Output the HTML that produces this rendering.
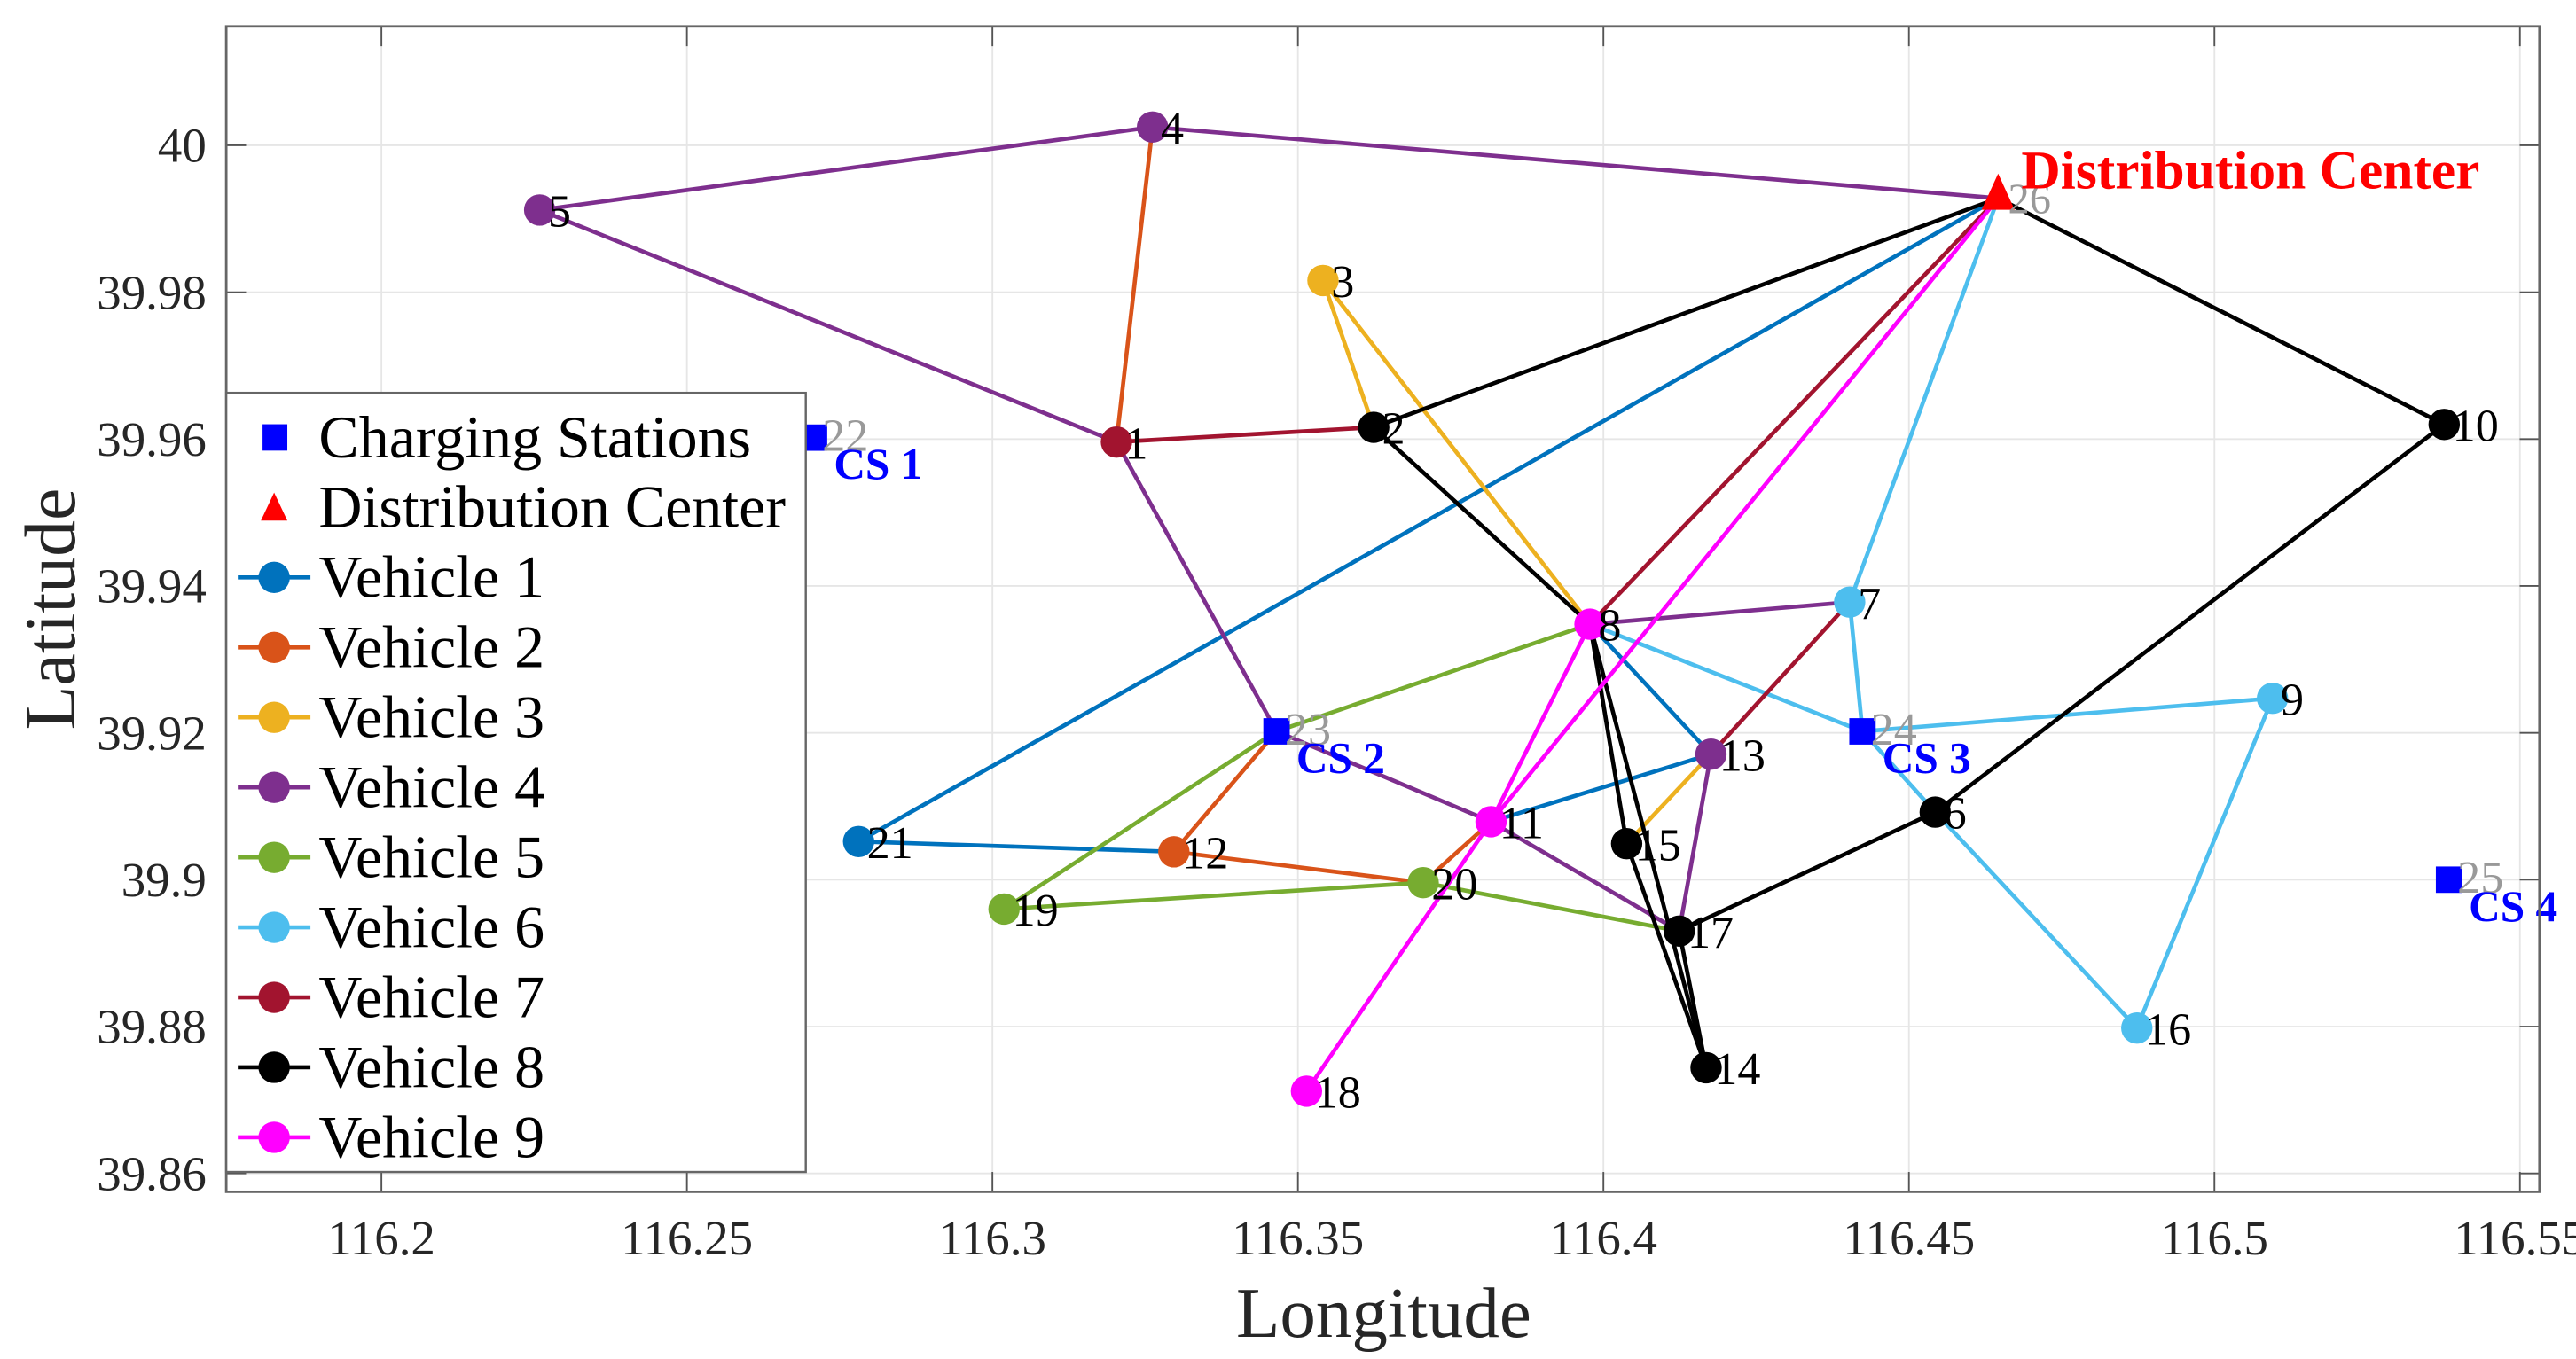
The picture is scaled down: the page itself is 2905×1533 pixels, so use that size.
<!DOCTYPE html>
<html><head><meta charset="utf-8"><style>
html,body{margin:0;padding:0;background:#fff;}
svg{display:block;font-family:"Liberation Serif",serif;}
</style></head><body>
<svg id="chart" width="2905" height="1533" viewBox="0 0 1560.1 823.3" xmlns="http://www.w3.org/2000/svg">
<g id="grid"></g>
<g id="routes"></g>
<g id="nodes"></g>
<g id="axes"></g>
<g id="legend"></g>
</svg>
<script>
const xTicks = [116.2, 116.25, 116.3, 116.35, 116.4, 116.45, 116.5, 116.55];
const xTickLabels = ["116.2","116.25","116.3","116.35","116.4","116.45","116.5","116.55"];
const yTicks = [40, 39.98, 39.96, 39.94, 39.92, 39.9, 39.88, 39.86];
const yTickLabels = ["40","39.98","39.96","39.94","39.92","39.9","39.88","39.86"];
const nodeIds = [1,2,3,4,5,6,7,8,9,10,11,12,13,14,15,16,17,18,19,20,21];
const nodeLon = [116.3203,116.3624,116.3541,116.3262,116.2259,116.4543,116.4403,116.3978,116.5095,116.5376,116.3816,116.3297,116.4176,116.4168,116.4038,116.4873,116.4124,116.3514,116.3019,116.3705,116.2781];
const nodeLat = [39.9596,39.9616,39.9816,40.0025,39.9912,39.9092,39.9378,39.9348,39.9247,39.9620,39.9079,39.9038,39.9171,39.8744,39.9049,39.8798,39.8930,39.8712,39.8960,39.8996,39.9052];
const nodeVehicle = [7,8,3,4,4,8,6,9,6,8,9,2,4,8,8,6,8,9,5,5,1];
const csIds = [22,23,24,25];
const csLabels = ["CS 1","CS 2","CS 3","CS 4"];
const csLon = [116.2708,116.3465,116.4424,116.5384];
const csLat = [39.9602,39.9202,39.9202,39.9000];
const dcLon = 116.4646;
const dcLat = 39.9928;
const vehicleNames = ["Vehicle 1","Vehicle 2","Vehicle 3","Vehicle 4","Vehicle 5","Vehicle 6","Vehicle 7","Vehicle 8","Vehicle 9"];
const vehicleColors = ["#0072BD","#D95319","#EDB120","#7E2F8E","#77AC30","#4DBEEE","#A2142F","#000000","#FF00FF"];
const route1 = [[26,21,12],[11,13,8]];
const route2 = [[4,1],[23,12,20,11]];
const route3 = [[2,3,8],[15,13]];
const route4 = [[26,4,5,1,23,11,17,13],[7,8]];
const route5 = [[8,23,19,20,17]];
const route6 = [[26,7,24,9,16,6,24],[8,24]];
const route7 = [[1,2],[26,8],[13,7]];
const route8 = [[26,2,8,15,14,17,6,10,26],[8,14]];
const route9 = [[26,11,18],[8,11]];
const routes = [route1,route2,route3,route4,route5,route6,route7,route8,route9];

const NS="http://www.w3.org/2000/svg";
const L=137,R=1538,T=16,B=722;
const xMin=116.1746,xMax=116.5532,yMin=39.8575,yMax=40.0162;
function sx(v){return L+(v-xMin)/(xMax-xMin)*(R-L);}
function sy(v){return B-(v-yMin)/(yMax-yMin)*(B-T);}
function mk(tag,attrs,parent,text){const e=document.createElementNS(NS,tag);for(const k in attrs)e.setAttribute(k,attrs[k]);if(text!==undefined)e.textContent=text;parent.appendChild(e);return e;}
function pos(id){
  if(id===26)return [sx(dcLon),sy(dcLat)];
  const ci=csIds.indexOf(id); if(ci>=0)return [sx(csLon[ci]),sy(csLat[ci])];
  const i=nodeIds.indexOf(id); return [sx(nodeLon[i]),sy(nodeLat[i])];
}
const grid=document.getElementById('grid'),axes=document.getElementById('axes');
mk('rect',{x:L,y:T,width:R-L,height:B-T,fill:'#fff'},grid);
xTicks.forEach((v,i)=>{const x=sx(v);
  let g=mk('line',{x1:x,y1:T,x2:x,y2:B,stroke:'#e6e6e6','stroke-width':1},grid);
  
  mk('line',{x1:x,y1:B,x2:x,y2:B-12,stroke:'#555','stroke-width':1},axes);
  mk('line',{x1:x,y1:T,x2:x,y2:T+12,stroke:'#555','stroke-width':1},axes);
  let t=mk('text',{x:x,y:B+38,'text-anchor':'middle','font-size':29.5,fill:'#262626'},axes,xTickLabels[i]);
  
});
yTicks.forEach((v,i)=>{const y=sy(v);
  let g=mk('line',{x1:L,y1:y,x2:R,y2:y,stroke:'#e6e6e6','stroke-width':1},grid);
  
  mk('line',{x1:L,y1:y,x2:L+12,y2:y,stroke:'#555','stroke-width':1},axes);
  mk('line',{x1:R,y1:y,x2:R-12,y2:y,stroke:'#555','stroke-width':1},axes);
  let t=mk('text',{x:L-12,y:y+10,'text-anchor':'end','font-size':29.5,fill:'#262626'},axes,yTickLabels[i]);
  
});
mk('rect',{x:L,y:T,width:R-L,height:B-T,fill:'none',stroke:'#666','stroke-width':1.5},axes);
let xl=mk('text',{x:838,y:810,'text-anchor':'middle','font-size':43.5,fill:'#262626'},axes,'Longitude');

let yl=mk('text',{x:0,y:0,transform:'translate(45,369) rotate(-90)','text-anchor':'middle','font-size':44,fill:'#262626'},axes,'Latitude');


const rg=document.getElementById('routes');
routes.forEach((segs,v)=>{segs.forEach(seg=>{
  const pts=seg.map(id=>pos(id).join(',')).join(' ');
  const p=mk('polyline',{points:pts,fill:'none',stroke:vehicleColors[v],'stroke-width':2.5,'stroke-linejoin':'round'},rg);
  
  
});});
const ng=document.getElementById('nodes');
nodeIds.forEach((id,i)=>{const [x,y]=pos(id);
  const c=mk('circle',{cx:x,cy:y,r:9.5,fill:vehicleColors[nodeVehicle[i]-1]},ng);
  
  
  const t=mk('text',{x:x+5,y:y+10,'font-size':28,fill:'#000'},ng,String(id));
  
  
});
csIds.forEach((id,i)=>{const [x,y]=pos(id);
  const r=mk('rect',{x:x-8,y:y-8,width:16,height:16,fill:'#0000FF'},ng);
  
  
  mk('text',{x:x+5,y:y+8,'font-size':28,fill:'#999'},ng,String(id));
  const t=mk('text',{x:x+12,y:y+25,'font-size':26.5,'font-weight':'bold',fill:'#0000FF'},ng,csLabels[i]);
  
  
});
(function(){const [x,y]=pos(26);
  const tr=mk('polygon',{points:`${x},${y-15} ${x-10},${y+7} ${x+10},${y+7}`,fill:'#FF0000'},ng);
  
  
  mk('text',{x:x+6,y:y+9,'font-size':26,fill:'#999'},ng,'26');
  const t=mk('text',{x:x+14,y:y-6,'font-size':33,'font-weight':'bold',fill:'#FF0000'},ng,'Distribution Center');
  
  
})();
const lg=document.getElementById('legend');
const box=mk('rect',{x:137,y:238,width:351,height:472,fill:'#fff',stroke:'#666','stroke-width':1.3},lg);

function lt(y,txt){const t=mk('text',{x:193,y:y+12,'font-size':36.5,fill:'#000'},lg,txt);
  }
let y0=265,dy=42.4;
mk('rect',{x:159,y:y0-8,width:15,height:16,fill:'#0000FF'},lg);lt(y0,'Charging Stations');
mk('polygon',{points:`166,${y0+dy-9} 158,${y0+dy+8} 174,${y0+dy+8}`,fill:'#FF0000'},lg);lt(y0+dy,'Distribution Center');
vehicleNames.forEach((n,i)=>{const y=y0+dy*(i+2);
  mk('line',{x1:144,y1:y,x2:188,y2:y,stroke:vehicleColors[i],'stroke-width':2.5},lg);
  mk('circle',{cx:166,cy:y,r:9.5,fill:vehicleColors[i]},lg);
  lt(y,n);
});
</script>
</body></html>
